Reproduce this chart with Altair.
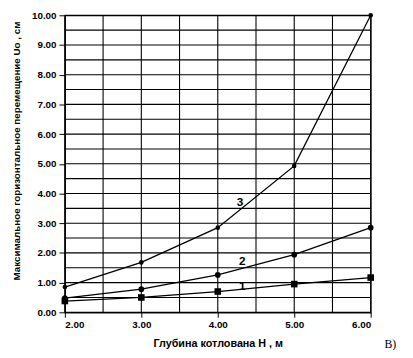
import altair as alt
import pandas as pd

depth = [2.0, 3.0, 4.0, 5.0, 6.0]
s1 = [0.38, 0.50, 0.70, 0.95, 1.17]
s2 = [0.48, 0.78, 1.26, 1.94, 2.85]
s3 = [0.85, 1.68, 2.85, 4.93, 10.0]

series_names = ["1", "2", "3"]
label_x = [4.32, 4.32, 4.29]
label_y = [0.87, 1.72, 3.72]

x_ticks = [2.0, 3.0, 4.0, 5.0, 6.0]
y_ticks = [float(i) for i in range(11)]
grid_x = [2 + 0.5 * i for i in range(9)]
grid_y = [0.5 * i for i in range(21)]

rows = []
for name, vals in zip(series_names, [s1, s2, s3]):
    for d, v in zip(depth, vals):
        rows.append({"H": d, "U": v, "s": name})
df = pd.DataFrame(rows)
lab = pd.DataFrame({"H": label_x, "U": label_y, "t": series_names})
gx = pd.DataFrame({"H": grid_x})
gy = pd.DataFrame({"U": grid_y})

font = "Liberation Sans"
xs = alt.Scale(domain=[2, 6], nice=False)
ys = alt.Scale(domain=[0, 10], nice=False)

xaxis = alt.Axis(values=x_ticks, format=".2f",
                 title="Глубина котлована H , м", grid=False,
                 domainColor="black", tickColor="black",
                 ticks=True, tickSize=5, labelFont=font, labelFontWeight="bold",
                 labelFontSize=10, labelColor="black", titleFont=font,
                 titleFontSize=11, titleFontWeight="bold", titleColor="black",
                 titlePadding=8, labelPadding=3, labelOverlap=False)
yaxis = alt.Axis(values=y_ticks, format=".2f",
                 title="Максимальное горизонтальное перемещение Uo , см", grid=False,
                 domainColor="black", tickColor="black", ticks=True, tickSize=6,
                 labelFont=font, labelFontWeight="bold", labelFontSize=10,
                 labelColor="black", titleFont=font, titleFontSize=10,
                 titleFontWeight="bold", titleColor="black", titleY=138, titleX=-44,
                 labelPadding=3, labelOverlap=False)

X = alt.X("H:Q", scale=xs, axis=xaxis)
Y = alt.Y("U:Q", scale=ys, axis=yaxis)

vgrid = alt.Chart(gx).mark_rule(color="black", strokeWidth=1.1).encode(x=X)
hgrid = alt.Chart(gy).mark_rule(color="black", strokeWidth=1.1).encode(y=Y)

base = alt.Chart(df)
lines = base.mark_line(color="black", strokeWidth=1.3, interpolate="linear").encode(
    x=X, y=Y, detail="s:N",
)
pts = base.mark_point(filled=True, color="black", opacity=1).encode(
    x=X, y=Y,
    shape=alt.Shape("s:N", scale=alt.Scale(domain=["1", "2", "3"],
                                           range=["square", "circle", "circle"]), legend=None),
    size=alt.Size("s:N", scale=alt.Scale(domain=["1", "2", "3"], range=[45, 22, 22]), legend=None),
)
labels = alt.Chart(lab).mark_text(font=font, fontWeight="bold", fontSize=12,
                                  color="black").encode(x=X, y=Y, text="t:N")
corner = alt.Chart(pd.DataFrame({"t": ["В)"]})).mark_text(
    font="Liberation Serif", fontSize=12, color="black", align="left").encode(
    x=alt.value(326), y=alt.value(335), text="t:N")

chart = alt.layer(vgrid, hgrid, lines, pts, labels, corner).properties(
    width=312, height=303,
    autosize=alt.AutoSizeParams(type="none"),
    padding={"left": 58, "top": 4, "right": 35, "bottom": 35},
    background="white",
).configure_view(stroke="black", strokeWidth=1.2)

chart.save("out.html", embed_options={"renderer": "svg", "actions": False})
